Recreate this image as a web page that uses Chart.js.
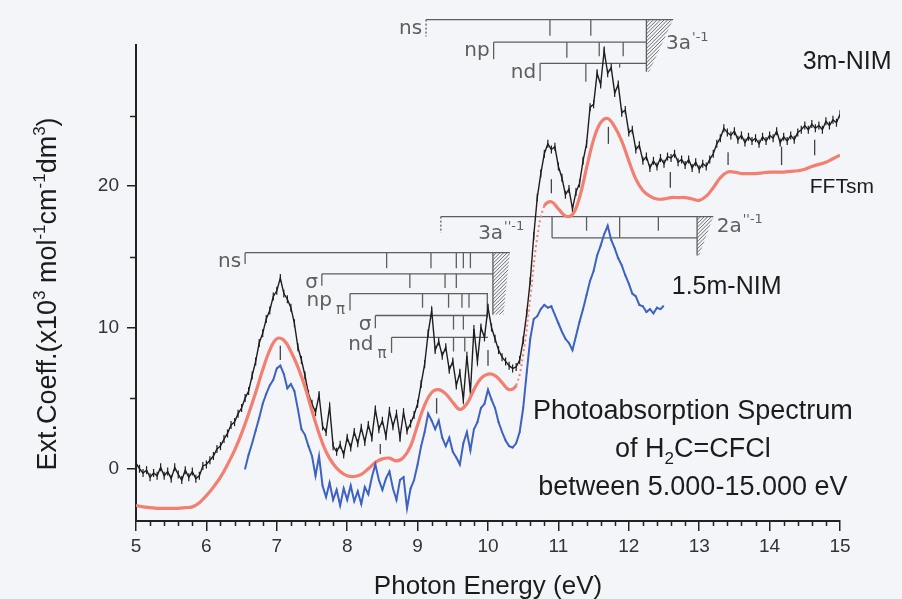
<!DOCTYPE html>
<html>
<head>
<meta charset="utf-8">
<script src="https://cdn.jsdelivr.net/npm/chart.js@4.4.1/dist/chart.umd.min.js"></script>
<style>
html,body{margin:0;padding:0;background:#f3f5f8;}
canvas{display:block;}
</style>
</head>
<body>
<canvas id="c" width="902" height="599"></canvas>
<script>
// ---------------- DATA ----------------
const xMajorTicks = [5,6,7,8,9,10,11,12,13,14,15];
const yMajorTicks = [0,10,20];
const yMinorTicks = [5,15,25];

// 3m-NIM (black, noisy)
const nim3Energy = [
 5.00,5.05,5.10,5.15,5.20,5.25,5.30,5.35,5.40,5.45,5.50,5.55,5.60,5.65,5.70,5.75,5.80,5.85,5.90,5.95,
 6.00,6.05,6.10,6.15,6.20,6.25,6.30,6.35,6.40,6.45,6.50,6.55,6.60,6.65,6.70,6.75,6.80,6.85,6.90,6.95,
 7.00,7.05,7.10,7.15,7.20,7.25,7.30,7.35,7.40,7.45,7.50,7.55,7.60,7.65,7.70,7.75,7.80,7.85,7.90,7.95,
 8.00,8.05,8.10,8.15,8.20,8.25,8.30,8.35,8.40,8.45,8.50,8.55,8.60,8.65,8.70,8.75,8.80,8.85,8.90,8.95,
 9.00,9.05,9.10,9.15,9.20,9.25,9.30,9.35,9.40,9.45,9.50,9.55,9.60,9.65,9.70,9.75,9.80,9.85,9.90,9.95,
 10.00,10.05,10.10,10.15,10.20,10.25,10.30,10.35,10.40,10.45,10.50,10.55,10.60,10.65,10.70,10.75,10.80,10.85,10.90,10.95,
 11.00,11.05,11.10,11.15,11.20,11.25,11.30,11.35,11.40,11.45,11.50,11.55,11.60,11.65,11.70,11.75,11.80,11.85,11.90,11.95,
 12.00,12.05,12.10,12.15,12.20,12.25,12.30,12.35,12.40,12.45,12.50,12.55,12.60,12.65,12.70,12.75,12.80,12.85,12.90,12.95,
 13.00,13.05,13.10,13.15,13.20,13.25,13.30,13.35,13.40,13.45,13.50,13.55,13.60,13.65,13.70,13.75,13.80,13.85,13.90,13.95,
 14.00,14.05,14.10,14.15,14.20,14.25,14.30,14.35,14.40,14.45,14.50,14.55,14.60,14.65,14.70,14.75,14.80,14.85,14.90,14.95,
 15.00];
const nim3Value = [
 0.4,0.0,-0.3,-0.1,-0.6,-0.3,-0.5,0.1,-0.5,-0.2,-0.7,0.1,-0.4,-0.8,-0.1,-0.6,-0.2,-0.7,-0.5,0.2,
 0.3,0.6,0.9,1.4,1.6,2.1,2.5,3.1,3.3,3.9,4.3,5.0,5.5,6.6,7.6,8.9,9.6,10.6,11.2,12.2,
 12.6,13.5,12.4,12.0,11.4,10.3,8.6,7.7,6.6,5.3,4.6,4.0,5.2,3.0,2.6,4.4,1.6,1.2,1.7,1.0,
 2.2,1.5,2.6,1.8,2.9,1.9,3.1,2.2,4.2,2.8,3.4,2.3,4.1,3.0,3.9,2.2,4.0,2.7,3.2,3.8,
 4.6,6.0,7.4,9.6,11.2,8.4,9.0,8.0,8.6,7.0,7.6,5.9,6.8,4.9,8.0,5.4,9.9,7.6,10.0,9.3,
 11.4,10.0,9.2,8.4,7.9,7.6,7.3,7.1,7.2,7.7,9.1,11.0,13.3,16.5,19.2,20.9,22.3,23.0,22.6,22.8,
 21.4,20.6,19.4,19.8,18.4,19.6,20.2,21.8,23.0,25.6,25.8,28.0,27.2,29.6,28.0,28.4,26.6,27.2,25.2,25.4,
 23.8,24.0,22.6,22.9,21.8,22.1,21.3,21.8,21.4,22.0,21.6,22.1,22.0,22.3,21.7,21.9,21.5,21.9,21.3,21.7,
 21.2,21.6,21.4,21.9,22.3,23.0,23.4,24.1,23.8,23.6,23.9,23.3,23.6,23.1,23.5,23.2,23.4,23.0,23.5,23.2,
 23.6,23.4,23.9,23.1,23.5,23.2,23.6,23.3,23.8,24.0,24.3,24.0,24.4,24.1,24.3,24.0,24.6,24.3,24.7,24.5,
 25.1];

// FFT smoothed (red)
const fftEnergy = [
 5.0,5.1,5.2,5.3,5.4,5.5,5.6,5.7,5.8,5.9,
 6.0,6.1,6.2,6.3,6.4,6.5,6.6,6.7,6.8,6.9,
 7.0,7.1,7.2,7.3,7.4,7.5,7.6,7.7,7.8,7.9,
 8.0,8.1,8.2,8.3,8.4,8.5,8.6,8.7,8.8,8.9,
 9.0,9.1,9.2,9.3,9.4,9.5,9.6,9.7,9.8,9.9,
 10.0,10.1,10.2,10.3,10.4,10.5,10.6,10.7,10.8,10.9,
 11.0,11.1,11.2,11.3,11.4,11.5,11.6,11.7,11.8,11.9,
 12.0,12.1,12.2,12.3,12.4,12.5,12.6,12.7,12.8,12.9,
 13.0,13.1,13.2,13.3,13.4,13.5,13.6,13.7,13.8,13.9,
 14.0,14.1,14.2,14.3,14.4,14.5,14.6,14.7,14.8,14.9,
 15.0];
const fftValue = [
 -2.6,-2.7,-2.75,-2.8,-2.8,-2.8,-2.8,-2.75,-2.7,-2.4,
 -1.9,-1.3,-0.6,0.3,1.3,2.5,3.9,5.4,7.0,8.4,
 9.2,9.1,8.3,7.2,5.8,4.1,2.5,1.2,0.35,-0.2,
 -0.5,-0.55,-0.4,0.0,0.45,0.7,0.75,0.55,0.8,1.6,
 3.1,4.5,5.4,5.6,5.3,4.7,4.2,4.6,5.6,6.4,
 6.7,6.6,6.1,5.6,5.9,8.1,12.1,16.4,18.6,18.9,
 18.4,17.9,18.0,19.2,21.3,23.3,24.5,24.8,24.2,23.2,
 21.8,20.5,19.7,19.3,19.1,19.1,19.2,19.2,19.2,19.1,
 19.0,19.3,19.9,20.6,21.0,21.0,20.9,20.9,20.9,20.95,
 21.0,21.0,21.0,21.05,21.1,21.2,21.4,21.55,21.7,21.95,
 22.2];

// 1.5m-NIM (blue)
const nim15Energy = [
 6.55,6.60,6.65,6.70,6.75,6.80,6.85,6.90,6.95,
 7.00,7.05,7.10,7.15,7.20,7.25,7.30,7.35,7.40,7.45,7.50,7.55,7.60,7.65,7.70,7.75,7.80,7.85,7.90,7.95,
 8.00,8.05,8.10,8.15,8.20,8.25,8.30,8.35,8.40,8.45,8.50,8.55,8.60,8.65,8.70,8.75,8.80,8.85,8.90,8.95,
 9.00,9.05,9.10,9.15,9.20,9.25,9.30,9.35,9.40,9.45,9.50,9.55,9.60,9.65,9.70,9.75,9.80,9.85,9.90,9.95,
 10.00,10.05,10.10,10.15,10.20,10.25,10.30,10.35,10.40,10.45,10.50,10.55,10.60,10.65,10.70,10.75,10.80,10.85,10.90,10.95,
 11.00,11.05,11.10,11.15,11.20,11.25,11.30,11.35,11.40,11.45,11.50,11.55,11.60,11.65,11.70,11.75,11.80,11.85,11.90,11.95,
 12.00,12.05,12.10,12.15,12.20,12.25,12.30,12.35,12.40,12.45,12.49];
const nim15Value = [
 0.0,1.0,1.8,2.7,3.6,4.6,5.3,5.9,6.3,
 7.1,7.3,6.7,5.7,6.0,5.5,4.2,2.8,2.4,1.6,0.9,-0.5,0.9,-1.2,-2.0,-1.0,-2.2,-1.5,-2.6,-1.4,
 -2.2,-1.2,-2.3,-1.6,-2.5,-1.3,-1.8,-0.6,0.3,-0.8,-1.5,-0.7,-0.2,-1.4,-2.2,-0.8,-0.6,-2.8,-1.4,-0.8,
 0.3,1.6,2.6,3.9,3.4,2.8,3.4,2.2,1.6,2.2,1.2,0.8,0.3,1.8,2.6,1.3,2.8,3.3,4.3,4.6,
 5.6,4.9,4.3,3.3,2.6,2.0,1.6,1.5,1.8,2.6,4.3,6.8,9.2,10.6,10.8,11.3,11.6,11.4,11.5,10.9,
 10.3,9.7,9.2,8.9,8.4,9.4,10.4,11.3,12.3,13.3,14.0,15.1,15.8,16.6,17.2,16.2,15.6,14.9,14.4,13.7,
 13.1,12.4,12.2,11.6,11.5,11.1,11.3,11.0,11.4,11.3,11.5];

// Rydberg series ladders: [label, subscript, level, start eV, end eV, bracket drop, dashed bracket, ticks [eV, length]]
const rydbergSeries = [
 ['ns','',31.8,9.12,12.63,1.2,true,[[10.88,1.15],[11.46,1.15]]],
 ['np','',30.2,10.08,12.25,1.2,false,[[11.12,1.1],[11.58,1.0],[11.92,1.0]]],
 ['nd','',28.7,10.74,12.25,1.25,false,[[11.39,1.3],[11.87,0.3]]],
 ['ns','',15.3,6.55,10.31,0.8,false,[[8.56,1.1],[9.19,1.1],[9.55,1.1],[9.65,1.1],[9.75,1.1]]],
 ['σ','',13.8,7.64,10.07,0.85,false,[[8.89,1.0],[9.39,1.0],[9.55,1.0]]],
 ['np','π',12.4,8.04,10.0,1.2,false,[[9.07,1.0],[9.44,1.0],[9.63,1.0],[9.73,1.0],[9.99,1.7]]],
 ['σ','',10.85,8.4,10.0,0.9,false,[[9.51,1.0],[9.65,1.0]]],
 ['nd','π',9.3,8.63,10.0,1.1,false,[[9.51,1.0],[9.67,1.0]]],
 ['','',17.85,9.33,13.2,1.15,true,[[11.40,1.0],[11.87,1.5],[12.42,1.0]]],
 ['','',16.35,10.91,12.97,-1.5,false,[]]
];
// ionisation limits (hatched): [left eV, top-right eV, bottom-right eV, top, bottom]
const limitHatches = [
 [12.25,12.63,12.29,31.8,28.1],
 [10.07,10.31,10.22,15.3,10.9],
 [12.97,13.2,13.0,17.85,15.1]
];
const limitLabels = [
 ['3a',"'-1",12.53,30.05],
 ['3a',"''-1",9.86,16.65],
 ['2a',"''-1",13.25,17.15]
];
// assignment markers on the curves: [eV, from, to]
const peakMarks = [
 [7.05,7.7,8.7],[8.47,1.05,1.75],[9.27,3.9,5.0],[10.0,7.3,8.4],[10.9,19.5,20.5],
 [11.71,23.0,24.2],[12.59,19.9,21.0],[13.41,21.5,22.4],[14.17,21.5,22.8],[14.64,22.2,23.3]
];
const seriesLabels = [
 ['3m-NIM',14.47,28.3,25],
 ['FFTsm',14.57,19.5,21],
 ['1.5m-NIM',12.61,12.4,25]
];
const titleLines = [
 [[['Photoabsorption Spectrum','']],3.55],
 [[['of H',''],['2','sub'],['C=CFCl','']],0.85],
 [[['between 5.000-15.000 eV','']],-1.84]
];
const titleCenterEnergy = 12.91;
const xTitle = 'Photon Energy (eV)';
const yTitleParts = [['Ext.Coeff.(x10',''],['3','sup'],[' mol',''],['-1','sup'],['cm',''],['-1','sup'],['dm',''],['3','sup'],[')','']];

// ---------------- STYLE ----------------
const FONT = "'Liberation Sans', Arial, Helvetica, sans-serif";
const LFONT = "'DejaVu Sans', 'Liberation Sans', sans-serif";
const INK = '#1c1c1c';
const LADDER = '#5e5e5e';

function pts(es, vs) { return es.map((e, i) => ({x: e, y: vs[i]})); }

function richText(ctx, parts, x, y, size, align) {
  const big = size + 'px ' + FONT, small = Math.round(size * 0.62) + 'px ' + FONT;
  let total = 0;
  const widths = parts.map(([t, m]) => { ctx.font = m ? small : big; const w = ctx.measureText(t).width; total += w; return w; });
  let cx = align === 'center' ? x - total / 2 : (align === 'right' ? x - total : x);
  ctx.textAlign = 'left';
  parts.forEach(([t, m], i) => {
    ctx.font = m ? small : big;
    const dy = m === 'sup' ? -size * 0.42 : (m === 'sub' ? size * 0.26 : 0);
    ctx.fillText(t, cx, y + dy);
    cx += widths[i];
  });
}

const annotations = {
  id: 'annotations',
  beforeDatasetsDraw(chart) {
    const {ctx, scales: {x, y}} = chart;
    const X = v => x.getPixelForValue(v), Y = v => y.getPixelForValue(v);
    const seg = (x1, y1, x2, y2) => { ctx.beginPath(); ctx.moveTo(x1, y1); ctx.lineTo(x2, y2); ctx.stroke(); };
    ctx.save();
    ctx.strokeStyle = LADDER; ctx.fillStyle = LADDER; ctx.lineWidth = 1.3;
    for (const [xl, xtr, xbr, yt, yb] of limitHatches) {
      const L = X(xl), TR = X(xtr), BR = X(xbr), T = Y(yt), B = Y(yb);
      ctx.save();
      ctx.beginPath(); ctx.moveTo(L, T); ctx.lineTo(TR, T); ctx.lineTo(BR, B); ctx.lineTo(L, B); ctx.closePath(); ctx.clip();
      ctx.lineWidth = 0.9;
      const h = B - T;
      for (let k = -h; k < (TR - L) + 4; k += 3.6) seg(L + k, B, L + k + h, T);
      ctx.restore();
      seg(L, T, L, B);
    }
    for (const [label, sub, lvl, x0, x1, drop, dashed, ticks] of rydbergSeries) {
      const yl = Y(lvl), xs = X(x0);
      seg(xs, yl, X(x1), yl);
      if (dashed) ctx.setLineDash([2, 2]);
      seg(xs, yl, xs, Y(lvl - drop));
      ctx.setLineDash([]);
      for (const [e, len] of ticks) seg(X(e), yl, X(e), Y(lvl - len));
      if (label) {
        ctx.textBaseline = 'middle';
        ctx.textAlign = 'right';
        if (sub) {
          ctx.font = '15px ' + LFONT;
          ctx.fillText(sub, xs - 5, yl + 17);
          const sw = ctx.measureText(sub).width;
          ctx.font = '20px ' + LFONT;
          ctx.fillText(label, xs - 5 - sw - 4, yl + 7);
        } else {
          ctx.font = '20px ' + LFONT;
          ctx.fillText(label, xs - 4, yl + 9);
        }
      }
    }
    ctx.textBaseline = 'middle'; ctx.textAlign = 'left';
    for (const [base, sup, e, v] of limitLabels) {
      const xx = X(e), yy = Y(v);
      ctx.font = '20px ' + LFONT;
      ctx.fillText(base, xx, yy);
      const w = ctx.measureText(base).width;
      ctx.font = '13px ' + LFONT;
      ctx.fillText(sup, xx + w + 1, yy - 7);
    }
    ctx.strokeStyle = '#444';
    for (const [e, a, b] of peakMarks) seg(X(e), Y(a), X(e), Y(b));
    ctx.restore();
  },
  afterDraw(chart) {
    const {ctx, chartArea, scales: {x, y}} = chart;
    const X = v => x.getPixelForValue(v), Y = v => y.getPixelForValue(v);
    ctx.save();
    ctx.strokeStyle = '#222'; ctx.lineWidth = 1.5;
    for (let i = 1; i < 50; i++) {
      if (i % 5 === 0) continue;
      const px = Math.round(X(5 + i * 0.2)) + 0.5;
      ctx.beginPath(); ctx.moveTo(px, chartArea.bottom); ctx.lineTo(px, chartArea.bottom + 5); ctx.stroke();
    }
    for (const v of yMinorTicks) {
      const py = Math.round(Y(v)) + 0.5;
      ctx.beginPath(); ctx.moveTo(chartArea.left - 6, py); ctx.lineTo(chartArea.left, py); ctx.stroke();
    }
    ctx.fillStyle = INK;
    ctx.textBaseline = 'alphabetic';
    for (const [t, e, v, s] of seriesLabels) {
      ctx.font = s + 'px ' + FONT; ctx.textAlign = 'left';
      ctx.fillText(t, X(e), Y(v));
    }
    for (const [parts, v] of titleLines) richText(ctx, parts, X(titleCenterEnergy), Y(v), 27, 'center');
    ctx.font = '26px ' + FONT; ctx.textAlign = 'center';
    ctx.fillText(xTitle, (chartArea.left + chartArea.right) / 2, 594);
    ctx.save();
    ctx.translate(56, 294);
    ctx.rotate(-Math.PI / 2);
    richText(ctx, yTitleParts, 0, 0, 27, 'center');
    ctx.restore();
    ctx.restore();
  }
};

Chart.defaults.font.family = FONT;

new Chart(document.getElementById('c'), {
  type: 'line',
  data: {
    datasets: [
      {
        label: '1.5m-NIM', data: pts(nim15Energy, nim15Value),
        borderColor: '#3d62c3', borderWidth: 2, tension: 0,
        pointStyle: 'rect', pointRadius: 1.2, pointBorderWidth: 0, pointBackgroundColor: '#3d62c3'
      },
      {
        label: 'FFTsm', data: pts(fftEnergy, fftValue),
        borderColor: '#f27f70', borderWidth: 3.2, pointRadius: 0, tension: 0.4,
        segment: {
          borderDash: c => (c.p0.parsed.x >= 10.4 && c.p1.parsed.x <= 10.8) ? [2, 3] : undefined,
          borderWidth: c => (c.p0.parsed.x >= 10.4 && c.p1.parsed.x <= 10.8) ? 2 : undefined
        }
      },
      {
        label: '3m-NIM', data: pts(nim3Energy, nim3Value),
        borderColor: '#1e1e1e', borderWidth: 1.4, tension: 0,
        pointStyle: 'line', pointRotation: 90, pointRadius: 4,
        pointBorderColor: '#1e1e1e', pointBorderWidth: 1.2, pointBackgroundColor: '#1e1e1e'
      }
    ]
  },
  options: {
    responsive: false,
    animation: false,
    devicePixelRatio: 1,
    layout: {padding: {left: 0, right: 62, top: 45, bottom: 0}},
    plugins: {legend: {display: false}, tooltip: {enabled: false}},
    scales: {
      x: {
        type: 'linear', min: 5, max: 15,
        afterBuildTicks: s => { s.ticks = xMajorTicks.map(v => ({value: v})); },
        afterFit: s => { s.height = 78; },
        grid: {drawOnChartArea: false, drawTicks: true, tickLength: 10, color: '#222', lineWidth: 1.5},
        border: {display: true, color: '#222', width: 2},
        ticks: {padding: 4, color: '#333', font: {size: 19}, maxRotation: 0, autoSkip: false, callback: v => String(v)}
      },
      y: {
        type: 'linear', min: -3.7, max: 30,
        afterBuildTicks: s => { s.ticks = yMajorTicks.map(v => ({value: v})); },
        afterFit: s => { s.width = 136; },
        grid: {drawOnChartArea: false, drawTicks: true, tickLength: 9, color: '#222', lineWidth: 1.5},
        border: {display: true, color: '#222', width: 2},
        ticks: {padding: 8, color: '#333', font: {size: 19}, callback: v => String(v)}
      }
    }
  },
  plugins: [annotations]
});
</script>
</body>
</html>
